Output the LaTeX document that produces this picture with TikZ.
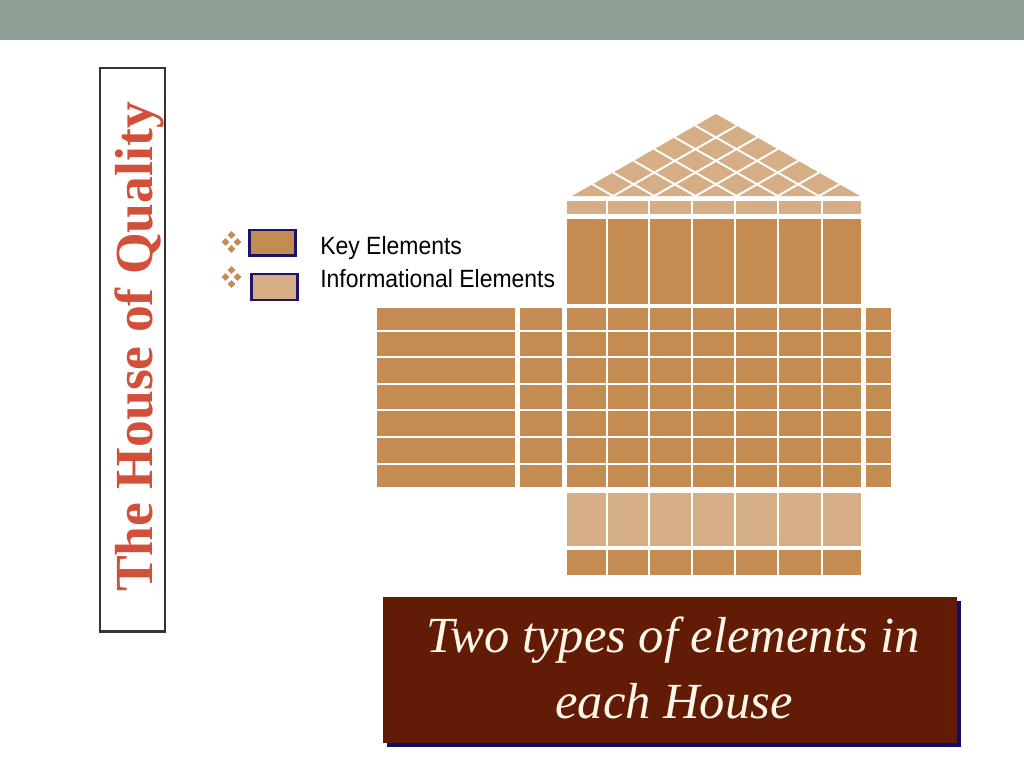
\documentclass[tikz,border=0pt]{standalone}
\usepackage{fontspec}
\setmainfont{Liberation Serif}
\newfontfamily\legendfont{Liberation Sans}
\definecolor{barGray}{HTML}{8E9F96}
\definecolor{keyTile}{HTML}{C48B52}
\definecolor{infoTile}{HTML}{D6AE86}
\definecolor{legendNavy}{HTML}{1E1466}
\definecolor{titleRed}{HTML}{D2503A}
\definecolor{frameGray}{HTML}{333333}
\definecolor{boxBrown}{HTML}{621B05}
\definecolor{shadowNavy}{HTML}{0D0D6B}
\definecolor{capCream}{HTML}{FFF8EA}

\begin{document}
\begin{tikzpicture}[x=0.02cm,y=-0.02cm,
  keycell/.style={fill=keyTile},
  infocell/.style={fill=infoTile},
  roofline/.style={draw=white,line width=1.1pt},
  legendbox/.style={draw=legendNavy,line width=1.6pt},
  legendtext/.style={anchor=base west,inner sep=0pt,xscale=0.92,font=\legendfont\fontsize{14.2}{16}\selectfont},
  captext/.style={anchor=base,inner sep=0pt,text=capCream,font=\itshape\fontsize{28.8}{34}\selectfont}]
\fill[white] (0,0) rectangle (1024,768);
\fill[barGray] (0,0) rectangle (1024,40);
\draw[frameGray, line width=1.7pt] (100,68) rectangle (165,631);
\node (title) [rotate=90, anchor=base, inner sep=0pt, text=titleRed,
  font=\bfseries\fontsize{30.5}{36}\selectfont] at (152,347) {The House of Quality};
\foreach \by in {242,277}
  \foreach \dx/\dy in {-6/0,6/0,0/-7,0/7}
    \fill[keyTile] (231.5+\dx,\by+\dy) +(-3.8,0) -- +(0,-3.8) -- +(3.8,0) -- +(0,3.8) -- cycle;
\draw[legendbox, keycell] (249.5,230) rectangle (295.5,255.5);
\draw[legendbox, infocell] (251.5,274) rectangle (297.5,300);
\node (keylabel) [legendtext] at (320,254) {Key Elements};
\node (infolabel) [legendtext] at (320,287) {Informational Elements};
\fill[infocell] (716,114) -- (860,196) -- (572,196) -- cycle;
\foreach \i in {1,...,6} {
  \draw[roofline] ({716-144*\i/7},{114+82*\i/7}) -- ({860-288*\i/7},196);
  \draw[roofline] ({716+144*\i/7},{114+82*\i/7}) -- ({572+288*\i/7},196);
}
\foreach \xa/\xb in {567/606,608/648,650/691,693/734,736/777,779/821,823/861} {
  \fill[infocell] (\xa,201) rectangle (\xb,214);
  \fill[keycell] (\xa,219) rectangle (\xb,304);
  \foreach \ya/\yb in {308/330,332/356,358/383,385/409,411/436,438/463,465/487}
    \fill[keycell] (\xa,\ya) rectangle (\xb,\yb);
  \fill[infocell] (\xa,493) rectangle (\xb,546);
  \fill[keycell] (\xa,550) rectangle (\xb,575);
}
\foreach \ya/\yb in {308/330,332/356,358/383,385/409,411/436,438/463,465/487} {
  \fill[keycell] (377,\ya) rectangle (515,\yb);
  \fill[keycell] (520,\ya) rectangle (562,\yb);
  \fill[keycell] (866,\ya) rectangle (891,\yb);
}
\fill[shadowNavy] (387,601) rectangle (961,747);
\fill[boxBrown] (383,597) rectangle (957,743);
\node (capline1) [captext] at (673,652) {Two types of elements in};
\node (capline2) [captext] at (674,718) {each House};
\end{tikzpicture}
\end{document}
